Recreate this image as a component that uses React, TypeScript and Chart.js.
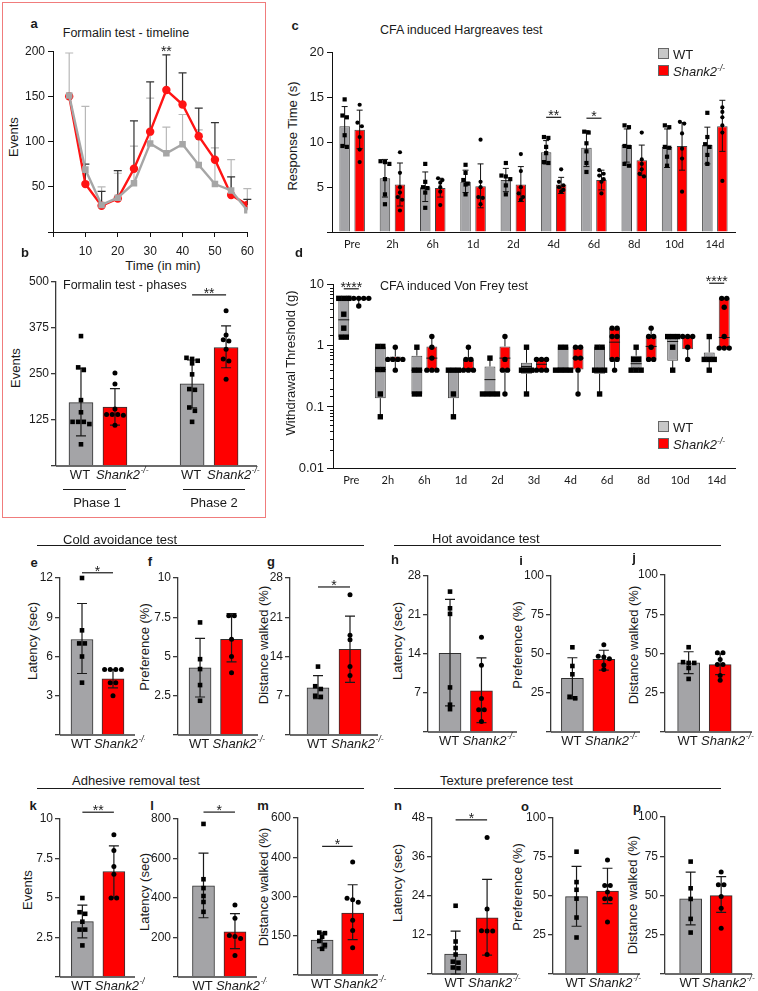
import React, { useEffect, useRef } from 'react';
import { Chart, registerables } from 'chart.js';
Chart.register(...registerables);

const ARIAL = '"Liberation Sans", Arial, Helvetica, sans-serif';
const CALIBRI = 'Lato, "Open Sans", sans-serif';
const GREY = '#a4a4a7';
const RED = '#ff0000';
const EDGE = '#303030';
const AXIS = '#3a3a3a';
const INK = '#1a1a1a';

// ---------------- Panel a: Formalin timeline ----------------
const timeMin = [5, 10, 15, 20, 25, 30, 35, 40, 45, 50, 55, 60];
const aWtMean = [151, 69, 30, 38, 54, 98, 87, 97, 74, 53, 46, 24];
const aWtTop = [198, 139, 50, 65, 95, 148, 116, 130, 113, 93, 80, 48];
const aKoMean = [150, 53, 29, 37, 70, 111, 157, 141, 106, 80, 41, 30];
const aKoTop = [null, 75, 45, 68, 123, 166, 196, 176, 137, 121, 61, 36];

// ---------------- Panel b: Formalin phases ----------------
const bPos = [1, 2, 4.27, 5.27];
const bMean = [172, 160, 223, 322];
const bLo = [82, 111, 158, 267];
const bHi = [266, 210, 288, 381];
const bWtP1 = [353, 268, 261, 179, 146, 120, 120, 120, 114, 59];
const bKoP1 = [253, 223, 155, 140, 140, 140, 138, 111];
const bWtP2 = [294, 291, 286, 279, 249, 209, 207, 159, 150, 120];
const bKoP2 = [422, 356, 343, 340, 317, 291, 285, 236];

// ---------------- Panel c: Hargreaves ----------------
const cLabels = ['Pre', '2h', '6h', '1d', '2d', '4d', '6d', '8d', '10d', '14d'];
const cWtMean = [11.8, 6.0, 5.0, 5.6, 5.8, 8.9, 9.4, 9.7, 9.5, 9.7];
const cWtLo = [9.6, 3.9, 3.4, 4.4, 4.5, 7.6, 7.3, 7.8, 7.2, 7.6];
const cWtHi = [14.0, 8.1, 6.7, 6.9, 7.1, 10.2, 11.3, 11.5, 11.5, 11.7];
const cKoMean = [11.4, 5.3, 4.9, 5.1, 5.3, 5.3, 5.8, 8.0, 9.6, 11.8];
const cKoLo = [9.3, 2.9, 3.9, 2.7, 3.4, 4.3, 4.7, 6.3, 6.9, 9.0];
const cKoHi = [13.6, 7.7, 6.0, 7.6, 7.3, 6.1, 6.9, 9.7, 12.2, 14.7];
const cWtDots = [
  [14.8, 13.0, 12.8, 10.8, 9.6, 9.5],
  [7.9, 7.8, 7.6, 5.9, 4.2, 3.1],
  [7.6, 5.6, 5.0, 4.9, 4.4, 2.7],
  [7.5, 6.6, 5.8, 5.4, 5.3, 4.2],
  [7.7, 6.3, 6.2, 5.9, 5.2, 4.2],
  [10.6, 10.5, 9.5, 8.8, 7.8, 7.7],
  [11.2, 11.1, 9.9, 9.0, 7.7, 6.7],
  [11.9, 11.7, 9.6, 9.5, 7.6, 7.4],
  [11.9, 11.7, 9.5, 9.4, 8.4, 7.4],
  [13.3, 10.6, 9.8, 9.5, 8.6, 7.6],
];
const cKoDots = [
  [14.2, 12.2, 11.8, 10.6, 9.2, 7.8],
  [8.9, 6.6, 5.0, 4.4, 3.9, 3.6, 2.4],
  [6.0, 5.8, 5.5, 5.0, 4.5, 3.0],
  [10.3, 5.6, 5.0, 3.9, 3.8, 3.1],
  [8.7, 6.8, 5.0, 4.3, 3.9, 3.6],
  [7.0, 5.6, 5.2, 5.0, 4.7, 4.5],
  [6.9, 6.5, 6.3, 5.9, 5.6, 4.3],
  [11.1, 8.1, 7.6, 7.0, 6.5, 6.2],
  [12.3, 12.1, 11.0, 9.3, 8.2, 4.5],
  [13.9, 13.4, 12.8, 11.9, 11.1, 5.7],
];
const cSigIdx = [5, 6];
const cSigY = [12.8, 12.7];
const cSigText = ['**', '*'];

// ---------------- Panel d: Von Frey (box plots) ----------------
const dLabels = ['Pre', '2h', '6h', '1d', '2d', '3d', '4d', '6d', '8d', '10d', '14d'];
// [min, q1, median, q3, max]
const dWtBox = [
  [1.39, 1.39, 2.67, 6.0, 6.0],
  [0.069, 0.139, 0.41, 0.98, 0.98],
  [0.163, 0.163, 0.40, 0.69, 0.95],
  [0.069, 0.139, 0.40, 0.43, 0.43],
  [0.163, 0.163, 0.28, 0.46, 0.63],
  [0.163, 0.35, 0.46, 0.53, 0.95],
  [0.40, 0.40, 0.43, 0.98, 0.98],
  [0.163, 0.35, 0.39, 0.98, 0.98],
  [0.40, 0.40, 0.51, 0.69, 0.95],
  [0.40, 0.57, 1.18, 1.42, 1.42],
  [0.40, 0.57, 0.60, 0.78, 1.42],
];
const dKoBox = [
  [4.5, 5.8, 6.0, 6.0, 6.0],
  [0.40, 0.59, 0.60, 0.67, 0.95],
  [0.39, 0.39, 0.63, 0.98, 1.42],
  [0.40, 0.40, 0.42, 0.60, 0.95],
  [0.163, 0.39, 0.63, 0.98, 1.42],
  [0.40, 0.40, 0.50, 0.60, 0.60],
  [0.163, 0.41, 0.63, 0.98, 0.98],
  [0.40, 0.60, 1.15, 1.95, 1.95],
  [0.60, 0.60, 0.98, 1.42, 1.95],
  [0.60, 0.88, 1.40, 1.42, 1.42],
  [0.92, 0.92, 1.37, 6.0, 6.0],
];
const dWtDots = [
  [6, 6, 6, 3.3, 1.95, 1.39, 1.39],
  [0.98, 0.98, 0.41, 0.41, 0.163, 0.069],
  [0.95, 0.40, 0.40, 0.163, 0.163],
  [0.40, 0.40, 0.40, 0.163, 0.069],
  [0.63, 0.163, 0.163, 0.163, 0.163],
  [0.95, 0.40, 0.40, 0.40, 0.163],
  [0.95, 0.95, 0.40, 0.40, 0.40, 0.40],
  [0.95, 0.95, 0.40, 0.40, 0.40, 0.163],
  [0.95, 0.60, 0.60, 0.40, 0.40, 0.40],
  [1.42, 1.42, 1.42, 0.95, 0.40],
  [1.42, 0.60, 0.60, 0.60, 0.40],
];
const dKoDots = [
  [6, 6, 6, 6, 6, 4.5],
  [0.95, 0.60, 0.60, 0.60, 0.60, 0.40],
  [1.42, 0.95, 0.63, 0.40, 0.40, 0.40],
  [0.95, 0.60, 0.60, 0.40, 0.40, 0.40],
  [1.42, 0.60, 0.40, 0.40, 0.163],
  [0.60, 0.60, 0.60, 0.40, 0.40, 0.40],
  [0.95, 0.95, 0.63, 0.63, 0.40, 0.163],
  [1.95, 1.95, 1.42, 1.42, 0.60, 0.60, 0.40],
  [1.95, 1.42, 1.42, 0.95, 0.60, 0.60],
  [1.42, 1.42, 1.42, 0.95, 0.60],
  [6, 6, 4.3, 1.42, 0.92, 0.92, 0.92],
];
const dSigIdx = [0, 10];
const dSigY = [8.6, 10.6];

// ---------------- Panels e-p (WT vs Shank2) ----------------
const eMean = [7.3, 4.3], eLo = [4.7, 3.6], eHi = [10.05, 5.0];
const eWt = [12, 8, 7, 7, 6, 4], eKo = [5, 5, 5, 5, 4, 4, 3];
const fMean = [4.28, 6.09], fLo = [2.42, 4.66], fHi = [6.15, 7.74];
const fWt = [7.17, 4.83, 4.2, 3.18, 2.18], fKo = [7.6, 7.6, 6.1, 5.0, 3.96];
const gMean = [8.4, 15.3], gLo = [6.5, 9.4], gHi = [10.6, 21.2];
const gWt = [12.2, 8.7, 8.2, 7.0, 6.8], gKo = [25.0, 17.8, 17.0, 12.2, 10.6];
const hMean = [14.1, 7.4], hLo = [4.7, 1.7], hHi = [23.8, 13.3];
const hWt = [25.2, 22.2, 21.2, 8.0, 4.9, 4.1], hKo = [17.0, 12.0, 6.0, 4.0, 4.0, 1.9];
const iMean = [34.4, 46.6], iLo = [21.2, 39.7], iHi = [47.6, 52.4];
const iWt = [54.3, 42.3, 37, 22.6, 21.6], iKo = [56, 48.5, 48, 47, 43, 40];
const jMean = [44.0, 42.9], jLo = [37.2, 36.5], jHi = [51.1, 49.8];
const jWt = [54, 44.5, 44, 44, 40.8, 33.8], jKo = [50.4, 50.4, 46.2, 43, 43, 36, 32.9];
const kMean = [3.5, 6.68], kLo = [2.48, 5.0], kHi = [4.55, 8.3];
const kWt = [5.0, 4.1, 4.0, 3.5, 3.0, 3.0, 2.0], kKo = [9.0, 8.0, 7.0, 6.5, 5.0, 5.0];
const lMean = [461, 229], lLo = [300, 144], lHi = [627, 321];
const lWt = [775, 495, 450, 410, 380, 330], lKo = [364, 297, 210, 205, 195, 109];
const mMean = [133, 237], mLo = [104, 135], mHi = [161, 345];
const mWt = [162, 160, 146, 130, 115, 100], mKo = [432, 293, 288, 278, 209, 170, 104];
const nMean = [6.1, 17.3], nLo = [0, 5.8], nHi = [13.2, 29.1];
const nWt = [21, 10, 8, 6, 3.8, 3.5, 2, 1.8], nKo = [42, 20, 13.3, 13.2, 13.2, 6];
const oMean = [49.6, 53.1], oLo = [30.6, 45.1], oHi = [69, 67.8];
const oWt = [78.4, 58.9, 54, 48.3, 36.2, 23.4], oKo = [73.1, 56.8, 56.8, 52.5, 48.3, 48.3, 33.4];
const pMean = [47.8, 49.9], pLo = [31.3, 39.3], pHi = [64.9, 62];
const pWt = [71.6, 54.6, 47.8, 35.1, 26.4], pKo = [64.9, 56.8, 56.8, 49.3, 41.9, 29.1];
const mTickText: Record<number, string> = { 150: '150', 300: '300', 450: '400', 600: '600' };

// ---------------- helpers ----------------
function swarm(ys: number[], size: number, step: number): number[] {
  const idx = ys.map((_, i) => i).sort((a, b) => ys[a] - ys[b]);
  const offs = new Array(ys.length).fill(0);
  let cl: number[] = [];
  const flush = () => {
    const n = cl.length;
    cl.forEach((k, j) => (offs[k] = (j - (n - 1) / 2) * step));
    cl = [];
  };
  for (const k of idx) {
    if (cl.length && ys[k] - ys[cl[0]] > size * 0.9) flush();
    cl.push(k);
  }
  flush();
  return offs;
}
function drawDot(ctx: any, x: number, y: number, s: number, square: boolean) {
  ctx.beginPath();
  if (square) ctx.rect(x - s / 2, y - s / 2, s, s);
  else ctx.arc(x, y, s / 2, 0, Math.PI * 2);
  ctx.fill();
}
function drawErr(ctx: any, x: number, y1: number, y2: number, cap: number) {
  ctx.beginPath();
  ctx.moveTo(x, y1); ctx.lineTo(x, y2);
  ctx.moveTo(x - cap / 2, y1); ctx.lineTo(x + cap / 2, y1);
  ctx.moveTo(x - cap / 2, y2); ctx.lineTo(x + cap / 2, y2);
  ctx.stroke();
}
function drawSig(ctx: any, x1: number, x2: number, y: number, text: string, size = 14) {
  ctx.strokeStyle = INK; ctx.lineWidth = 1.2;
  ctx.beginPath(); ctx.moveTo(x1, y); ctx.lineTo(x2, y); ctx.stroke();
  ctx.fillStyle = INK;
  ctx.font = `${size}px ${ARIAL}`;
  ctx.textAlign = 'center'; ctx.textBaseline = 'alphabetic';
  ctx.fillText(text, (x1 + x2) / 2, y + 3);
}
function drawGeno(ctx: any, x: number, y: number, ko: boolean) {
  ctx.fillStyle = INK; ctx.textBaseline = 'middle';
  if (!ko) {
    ctx.font = `13px ${ARIAL}`; ctx.textAlign = 'center';
    ctx.fillText('WT', x - 1, y);
    return;
  }
  ctx.textAlign = 'left';
  ctx.font = `italic 13px ${ARIAL}`;
  const w1 = ctx.measureText('Shank2').width;
  const sx = x + 3 - w1 / 2;
  ctx.fillText('Shank2', sx, y);
  ctx.font = `italic 8.5px ${ARIAL}`;
  ctx.fillText('-/-', sx + w1 + 0.5, y - 4.5);
}

function ChartCanvas({ left, top, width, height, make }: any) {
  const ref = useRef<HTMLCanvasElement | null>(null);
  useEffect(() => {
    if (!ref.current) return;
    const chart = new Chart(ref.current, make());
    return () => chart.destroy();
  }, []);
  return (
    <canvas ref={ref} width={width} height={height}
      style={{ position: 'absolute', left, top, width, height, display: 'block' }} />
  );
}

function Txt({ x, y, children, size = 13, bold = false, rot = false, align = 'center', family = ARIAL }: any) {
  const tx = align === 'center' ? '-50%' : align === 'left' ? '0%' : '-100%';
  return (
    <div style={{
      position: 'absolute', left: x, top: y, whiteSpace: 'nowrap', lineHeight: 1,
      fontSize: size, fontWeight: bold ? 700 : 400, fontFamily: family, color: INK,
      transform: `translate(${tx},-50%)${rot ? ' rotate(-90deg)' : ''}`,
    }}>{children}</div>
  );
}
const Ko = ({ sup = 8.5 }: any) => (
  <i>Shank2<span style={{ fontSize: sup, position: 'relative', top: -5 }}>-/-</span></i>
);
function HLine({ x, y, w }: any) {
  return <div style={{ position: 'absolute', left: x, top: y, width: w, height: 1, background: INK }} />;
}
function Swatch({ x, y, color }: any) {
  return <div style={{ position: 'absolute', left: x, top: y, width: 11, height: 11, boxSizing: 'border-box', background: color, border: '1px solid #666' }} />;
}

const tickFont = { family: ARIAL, size: 12 };

// ---------------- generic WT/KO bar panel ----------------
const YW = 48, PT = 14, PR = 10, PB = 26;
type BarSpec = {
  L: number; T: number; R: number; B: number;
  yMax: number; yStep: number; fmt?: (v: number) => string;
  xMin: number; xMax: number; xs: number[]; barW: number;
  means: number[]; lo: number[]; hi: number[]; dots: number[][];
  sig?: { a: number; b: number; y: number; text: string };
};
function barConfig(s: BarSpec) {
  return {
    type: 'bar',
    data: {
      datasets: [{
        data: s.means.map((m, i) => ({ x: s.xs[i], y: m })),
        backgroundColor: s.means.map((_, i) => (i % 2 ? RED : GREY)),
        borderColor: EDGE, borderWidth: 1, barThickness: s.barW,
      }],
    },
    options: {
      responsive: false, animation: false, events: [],
      layout: { padding: { left: 0, top: PT, right: PR, bottom: PB } },
      plugins: { legend: { display: false }, tooltip: { enabled: false } },
      scales: {
        x: { type: 'linear', display: false, min: s.xMin, max: s.xMax, offset: false },
        y: {
          type: 'linear', min: 0, max: s.yMax,
          afterFit: (sc: any) => { sc.width = YW; },
          ticks: {
            stepSize: s.yStep, autoSkip: false, padding: 2, color: INK, font: tickFont,
            callback: (v: number) => (v === 0 ? '' : s.fmt ? s.fmt(v) : String(v)),
          },
          grid: { drawOnChartArea: false, drawTicks: true, tickLength: 5, color: AXIS, lineWidth: 1.3 },
          border: { display: true, color: AXIS, width: 1.3 },
        },
      },
    },
    plugins: [{
      id: 'barDecor',
      afterDatasetsDraw(chart: any) {
        const { ctx, chartArea: ca } = chart;
        const y = chart.scales.y;
        const bars = chart.getDatasetMeta(0).data;
        ctx.save();
        ctx.strokeStyle = AXIS; ctx.lineWidth = 1.3;
        ctx.beginPath(); ctx.moveTo(ca.left, ca.bottom); ctx.lineTo(ca.right, ca.bottom); ctx.stroke();
        bars.forEach((bar: any, i: number) => {
          ctx.strokeStyle = INK; ctx.lineWidth = 1.2;
          drawErr(ctx, bar.x, y.getPixelForValue(s.lo[i]), y.getPixelForValue(s.hi[i]), 10);
          const ys = s.dots[i].map((v) => y.getPixelForValue(v));
          const offs = swarm(ys, 4.6, 5.6);
          ctx.fillStyle = '#000';
          ys.forEach((py, k) => drawDot(ctx, bar.x + offs[k], py, i % 2 ? 5 : 4.6, i % 2 === 0));
          drawGeno(ctx, bar.x, ca.bottom + 9.5, i % 2 === 1);
        });
        if (s.sig) {
          drawSig(ctx, bars[s.sig.a].x, bars[s.sig.b].x, y.getPixelForValue(s.sig.y), s.sig.text);
        }
        ctx.restore();
      },
    }],
  };
}
function BarPanel(s: BarSpec) {
  return (
    <ChartCanvas left={s.L - YW} top={s.T - PT} width={s.R - s.L + YW + PR} height={s.B - s.T + PT + PB}
      make={() => barConfig(s)} />
  );
}

const two = [1, 2];
const panelSpecs: BarSpec[] = [
  { L: 60, T: 578, R: 135, B: 735, yMax: 12, yStep: 3, xMin: 0.29, xMax: 2.71, xs: two, barW: 22, means: eMean, lo: eLo, hi: eHi, dots: [eWt, eKo], sig: { a: 0, b: 1, y: 12.4, text: '*' } },
  { L: 178, T: 578, R: 258, B: 735, yMax: 10, yStep: 2.5, xMin: 0.30, xMax: 2.84, xs: two, barW: 22, means: fMean, lo: fLo, hi: fHi, dots: [fWt, fKo] },
  { L: 290, T: 578, R: 378, B: 735, yMax: 28, yStep: 7, xMin: 0.125, xMax: 2.875, xs: two, barW: 22, means: gMean, lo: gLo, hi: gHi, dots: [gWt, gKo], sig: { a: 0, b: 1, y: 26.4, text: '*' } },
  { L: 428, T: 576, R: 517, B: 732, yMax: 28, yStep: 7, xMin: 0.30, xMax: 3.13, xs: two, barW: 22, means: hMean, lo: hLo, hi: hHi, dots: [hWt, hKo] },
  { L: 551, T: 576, R: 640, B: 732, yMax: 100, yStep: 25, xMin: 0.32, xMax: 3.15, xs: two, barW: 22, means: iMean, lo: iLo, hi: iHi, dots: [iWt, iKo] },
  { L: 665, T: 575, R: 752, B: 732, yMax: 100, yStep: 25, xMin: 0.25, xMax: 3.01, xs: two, barW: 22, means: jMean, lo: jLo, hi: jHi, dots: [jWt, jKo] },
  { L: 60, T: 819, R: 135, B: 977, yMax: 10, yStep: 2.5, xMin: 0.29, xMax: 2.67, xs: two, barW: 22, means: kMean, lo: kLo, hi: kHi, dots: [kWt, kKo], sig: { a: 0, b: 1, y: 10.43, text: '**' } },
  { L: 178, T: 819, R: 257, B: 977, yMax: 800, yStep: 200, xMin: 0.19, xMax: 2.70, xs: two, barW: 22, means: lMean, lo: lLo, hi: lHi, dots: [lWt, lKo], sig: { a: 0, b: 1, y: 835, text: '*' } },
  { L: 298, T: 818, R: 378, B: 975, yMax: 600, yStep: 150, fmt: (v) => mTickText[v] ?? String(v), xMin: 0.21, xMax: 2.83, xs: two, barW: 22, means: mMean, lo: mLo, hi: mHi, dots: [mWt, mKo], sig: { a: 0, b: 1, y: 491.6, text: '*' } },
  { L: 432, T: 818, R: 517, B: 974, yMax: 48, yStep: 12, xMin: 0.25, xMax: 2.95, xs: two, barW: 22, means: nMean, lo: nLo, hi: nHi, dots: [nWt, nKo], sig: { a: 0, b: 1, y: 47.4, text: '*' } },
  { L: 553, T: 818, R: 640, B: 974, yMax: 100, yStep: 25, xMin: 0.24, xMax: 3.05, xs: two, barW: 22, means: oMean, lo: oLo, hi: oHi, dots: [oWt, oKo] },
  { L: 665, T: 817, R: 752, B: 974, yMax: 100, yStep: 25, xMin: 0.16, xMax: 3.01, xs: two, barW: 22, means: pMean, lo: pLo, hi: pHi, dots: [pWt, pKo] },
];
const bSpec: BarSpec = {
  L: 56, T: 282, R: 257, B: 466, yMax: 500, yStep: 125, xMin: 0.265, xMax: 6.18, xs: bPos, barW: 24,
  means: bMean, lo: bLo, hi: bHi, dots: [bWtP1, bKoP1, bWtP2, bKoP2], sig: { a: 2, b: 3, y: 465, text: '**' },
};

// ---------------- panel a ----------------
function aConfig() {
  return {
    type: 'line',
    data: {
      datasets: [
        { label: 'WT', data: timeMin.map((t, i) => ({ x: t, y: aWtMean[i] })), borderColor: '#a6a6a6', backgroundColor: '#a6a6a6',
          pointStyle: 'rect', pointRadius: 4.6, pointBorderWidth: 0, borderWidth: 2.4, tension: 0 },
        { label: 'Shank2', data: timeMin.map((t, i) => ({ x: t, y: aKoMean[i] })), borderColor: '#ff1414', backgroundColor: '#ff1414',
          pointStyle: 'circle', pointRadius: 4.2, pointBorderWidth: 0, borderWidth: 2.4, tension: 0 },
      ],
    },
    options: {
      responsive: false, animation: false, events: [],
      layout: { padding: { left: 0, top: 10, right: 12, bottom: 0 } },
      plugins: { legend: { display: false }, tooltip: { enabled: false } },
      scales: {
        x: {
          type: 'linear', min: 0, max: 60,
          afterFit: (sc: any) => { sc.height = 30; },
          ticks: { stepSize: 10, padding: 7, color: INK, font: tickFont, callback: (v: number) => (v === 0 ? '' : String(v)) },
          grid: { drawOnChartArea: false, tickLength: 5, color: '#111', lineWidth: 1 },
          border: { display: true, color: '#111', width: 1 },
        },
        y: {
          min: 0, max: 200,
          afterFit: (sc: any) => { sc.width = 45; },
          ticks: { stepSize: 50, padding: 3, color: INK, font: tickFont, callback: (v: number) => (v === 0 ? '' : String(v)) },
          grid: { drawOnChartArea: false, tickLength: 5, color: '#111', lineWidth: 1 },
          border: { display: true, color: '#111', width: 1 },
        },
      },
    },
    plugins: [{
      id: 'aDecor',
      beforeDatasetsDraw(chart: any) {
        const { ctx } = chart; const x = chart.scales.x, y = chart.scales.y;
        ctx.save(); ctx.lineWidth = 1.2;
        const series = [{ m: aWtMean, t: aWtTop, c: '#b8b8b8' }, { m: aKoMean, t: aKoTop, c: '#333' }];
        series.forEach((s) => s.m.forEach((v, i) => {
          const top = s.t[i]; if (top == null) return;
          const px = x.getPixelForValue(timeMin[i]);
          const pt = y.getPixelForValue(top);
          ctx.strokeStyle = s.c;
          ctx.beginPath(); ctx.moveTo(px, y.getPixelForValue(v)); ctx.lineTo(px, pt);
          ctx.moveTo(px - 4, pt); ctx.lineTo(px + 4, pt); ctx.stroke();
        }));
        ctx.restore();
      },
      afterDatasetsDraw(chart: any) {
        const { ctx } = chart; const x = chart.scales.x, y = chart.scales.y;
        ctx.save();
        ctx.fillStyle = INK; ctx.font = `14px ${ARIAL}`; ctx.textAlign = 'center'; ctx.textBaseline = 'alphabetic';
        ctx.fillText('**', x.getPixelForValue(timeMin[6]), y.getPixelForValue(aKoTop[6] as number) + 1);
        ctx.restore();
      },
    }],
  };
}

// ---------------- panel c ----------------
function cConfig() {
  const ds = (label: string, data: number[], color: string) => ({
    label, data, backgroundColor: color, borderColor: '#444', borderWidth: 1,
    categoryPercentage: 0.745, barPercentage: 0.7,
  });
  return {
    type: 'bar',
    data: { labels: cLabels, datasets: [ds('WT', cWtMean, GREY), ds('Shank2', cKoMean, RED)] },
    options: {
      responsive: false, animation: false, events: [],
      layout: { padding: { left: 0, top: 10, right: 14, bottom: 0 } },
      plugins: { legend: { display: false }, tooltip: { enabled: false } },
      scales: {
        x: {
          afterFit: (sc: any) => { sc.height = 22; },
          ticks: { padding: 6, color: INK, font: { family: CALIBRI, size: 11 }, maxRotation: 0, autoSkip: false },
          grid: { display: false, drawTicks: false },
          border: { display: true, color: '#111', width: 1 },
        },
        y: {
          min: 0, max: 20,
          afterFit: (sc: any) => { sc.width = 48; },
          ticks: { stepSize: 5, padding: 3, color: INK, font: { family: ARIAL, size: 13 }, callback: (v: number) => (v === 0 ? '' : String(v)) },
          grid: { drawOnChartArea: false, tickLength: 5, color: '#111', lineWidth: 1 },
          border: { display: true, color: '#111', width: 1 },
        },
      },
    },
    plugins: [{
      id: 'cDecor',
      afterDatasetsDraw(chart: any) {
        const { ctx } = chart; const y = chart.scales.y;
        ctx.save();
        const sets = [{ lo: cWtLo, hi: cWtHi, dots: cWtDots }, { lo: cKoLo, hi: cKoHi, dots: cKoDots }];
        sets.forEach((s, d) => {
          chart.getDatasetMeta(d).data.forEach((el: any, i: number) => {
            ctx.strokeStyle = '#111'; ctx.lineWidth = 1;
            drawErr(ctx, el.x, y.getPixelForValue(s.lo[i]), y.getPixelForValue(s.hi[i]), 6);
            const ys = s.dots[i].map((v) => y.getPixelForValue(v));
            const offs = swarm(ys, 4, 4.4);
            ctx.fillStyle = '#000';
            ys.forEach((py, k) => drawDot(ctx, el.x + offs[k], py, 4.2, d === 0));
          });
        });
        const w = chart.getDatasetMeta(0).data, k = chart.getDatasetMeta(1).data;
        cSigIdx.forEach((idx, j) => drawSig(ctx, w[idx].x, k[idx].x, y.getPixelForValue(cSigY[j]), cSigText[j]));
        ctx.restore();
      },
    }],
  };
}

// ---------------- panel d ----------------
const isDecade = (v: number) => Math.abs(Math.log10(v) - Math.round(Math.log10(v))) < 1e-6;
function dConfig() {
  const ds = (label: string, box: number[][], color: string) => ({
    label, data: box.map((b) => [b[1], b[3]]), backgroundColor: color, borderColor: '#444', borderWidth: 1,
    borderSkipped: false, categoryPercentage: 0.82, barPercentage: 0.73,
  });
  return {
    type: 'bar',
    data: { labels: dLabels, datasets: [ds('WT', dWtBox, GREY), ds('Shank2', dKoBox, RED)] },
    options: {
      responsive: false, animation: false, events: [],
      layout: { padding: { left: 0, top: 10, right: 14, bottom: 0 } },
      plugins: { legend: { display: false }, tooltip: { enabled: false } },
      scales: {
        x: {
          afterFit: (sc: any) => { sc.height = 22; },
          ticks: { padding: 6, color: INK, font: { family: CALIBRI, size: 11 }, maxRotation: 0, autoSkip: false },
          grid: { display: false, drawTicks: false },
          border: { display: true, color: '#111', width: 1 },
        },
        y: {
          type: 'logarithmic', min: 0.01, max: 10,
          afterFit: (sc: any) => { sc.width = 48; },
          ticks: { autoSkip: false, padding: 3, color: INK, font: { family: ARIAL, size: 13 }, callback: (v: number) => (isDecade(v) ? String(v) : '') },
          grid: {
            drawOnChartArea: false, tickLength: 6, lineWidth: 1,
            color: (c: any) => (c.tick && isDecade(c.tick.value) ? '#111' : 'rgba(0,0,0,0)'),
          },
          border: { display: true, color: '#111', width: 1 },
        },
      },
    },
    plugins: [{
      id: 'dDecor',
      afterDatasetsDraw(chart: any) {
        const { ctx, chartArea: ca } = chart; const y = chart.scales.y;
        ctx.save();
        ctx.strokeStyle = '#111'; ctx.lineWidth = 1;
        y.ticks.forEach((t: any) => {
          if (isDecade(t.value)) return;
          const py = Math.round(y.getPixelForValue(t.value)) + 0.5;
          ctx.beginPath(); ctx.moveTo(ca.left - 3, py); ctx.lineTo(ca.left, py); ctx.stroke();
        });
        const sets = [{ box: dWtBox, dots: dWtDots }, { box: dKoBox, dots: dKoDots }];
        sets.forEach((s, d) => {
          chart.getDatasetMeta(d).data.forEach((el: any, i: number) => {
            const b = s.box[i];
            const hw = el.width / 2;
            ctx.strokeStyle = '#111'; ctx.lineWidth = 1;
            ctx.beginPath();
            ctx.moveTo(el.x, y.getPixelForValue(b[4])); ctx.lineTo(el.x, y.getPixelForValue(b[3]));
            ctx.moveTo(el.x, y.getPixelForValue(b[1])); ctx.lineTo(el.x, y.getPixelForValue(b[0]));
            const pm = y.getPixelForValue(b[2]);
            ctx.moveTo(el.x - hw, pm); ctx.lineTo(el.x + hw, pm);
            ctx.stroke();
            const ys = s.dots[i].map((v) => y.getPixelForValue(v));
            const offs = swarm(ys, 5, 5);
            ctx.fillStyle = '#000';
            ys.forEach((py, k) => drawDot(ctx, el.x + offs[k], py, 5.4, d === 0));
          });
        });
        const w = chart.getDatasetMeta(0).data, k = chart.getDatasetMeta(1).data;
        dSigIdx.forEach((idx, j) => drawSig(ctx, w[idx].x, k[idx].x, y.getPixelForValue(dSigY[j]), '****'));
        ctx.restore();
      },
    }],
  };
}

export default function App() {
  return (
    <div style={{ position: 'fixed', left: 0, top: 0, width: 758, height: 991, background: '#fff', overflow: 'hidden', fontFamily: ARIAL }}>
      <div style={{ position: 'absolute', left: 2, top: 2, width: 264, height: 516, boxSizing: 'border-box', border: '1.5px solid #f07c7c' }} />

      <Txt x={34} y={23} bold>a</Txt>
      <Txt x={126} y={33} size={12.5}>Formalin test - timeline</Txt>
      <Txt x={13} y={137} rot>Events</Txt>
      <Txt x={163} y={265}>Time (in min)</Txt>
      <ChartCanvas left={8} top={41} width={253} height={221} make={aConfig} />

      <Txt x={25} y={252} bold>b</Txt>
      <Txt x={63} y={285} size={12.5} align="left">Formalin test - phases</Txt>
      <Txt x={15} y={368} rot>Events</Txt>
      <BarPanel {...bSpec} />
      <HLine x={63} y={489} w={63} />
      <HLine x={183} y={489} w={62} />
      <Txt x={97} y={502}>Phase 1</Txt>
      <Txt x={214} y={502}>Phase 2</Txt>

      <Txt x={295} y={25} bold>c</Txt>
      <Txt x={380} y={30} size={12.5} align="left">CFA induced Hargreaves test</Txt>
      <Txt x={292} y={136} rot>Response Time (s)</Txt>
      <ChartCanvas left={284} top={42} width={465} height={212} make={cConfig} />
      <Swatch x={658} y={48} color="#c8c8c8" />
      <Txt x={673} y={54} align="left">WT</Txt>
      <Swatch x={658} y={65} color={RED} />
      <Txt x={673} y={71} align="left"><Ko /></Txt>

      <Txt x={299} y={252} bold>d</Txt>
      <Txt x={380} y={286} size={12.5} align="left">CFA induced Von Frey test</Txt>
      <Txt x={290} y={363} rot>Withdrawal Threshold (g)</Txt>
      <ChartCanvas left={285} top={274} width={464} height={216} make={dConfig} />
      <Swatch x={658} y={421} color="#c8c8c8" />
      <Txt x={673} y={427} align="left">WT</Txt>
      <Swatch x={658} y={438} color={RED} />
      <Txt x={673} y={444} align="left"><Ko /></Txt>

      <Txt x={63} y={539} align="left">Cold avoidance test</Txt>
      <HLine x={37} y={545} w={327} />
      <Txt x={432} y={538} align="left">Hot avoidance test</Txt>
      <HLine x={394} y={545} w={327} />
      <Txt x={72} y={780} align="left">Adhesive removal test</Txt>
      <HLine x={37} y={788} w={327} />
      <Txt x={440} y={780} align="left">Texture preference test</Txt>
      <HLine x={394} y={788} w={327} />

      <Txt x={34} y={562} bold>e</Txt>
      <Txt x={150} y={561} bold>f</Txt>
      <Txt x={271} y={561} bold>g</Txt>
      <Txt x={395} y={559} bold>h</Txt>
      <Txt x={521} y={560} bold>i</Txt>
      <Txt x={634} y={557} bold>j</Txt>
      <Txt x={33} y={805} bold>k</Txt>
      <Txt x={152} y={805} bold>l</Txt>
      <Txt x={263} y={805} bold>m</Txt>
      <Txt x={398} y={805} bold>n</Txt>
      <Txt x={525} y={806} bold>o</Txt>
      <Txt x={637} y={807} bold>p</Txt>

      <Txt x={32} y={641} rot>Latency (sec)</Txt>
      <Txt x={144} y={647} rot>Preference (%)</Txt>
      <Txt x={263} y={645} rot>Distance walked (%)</Txt>
      <Txt x={397} y={641} rot>Latency (sec)</Txt>
      <Txt x={517} y={645} rot>Preference (%)</Txt>
      <Txt x={633} y={645} rot>Distance walked (%)</Txt>
      <Txt x={27} y={890} rot>Events</Txt>
      <Txt x={144} y={892} rot>Latency (sec)</Txt>
      <Txt x={263} y={887} rot>Distance walked (%)</Txt>
      <Txt x={397} y={883} rot>Latency (sec)</Txt>
      <Txt x={517} y={887} rot>Preference (%)</Txt>
      <Txt x={632} y={895} rot>Distance walked (%)</Txt>

      {panelSpecs.map((s, i) => <BarPanel key={i} {...s} />)}
    </div>
  );
}
